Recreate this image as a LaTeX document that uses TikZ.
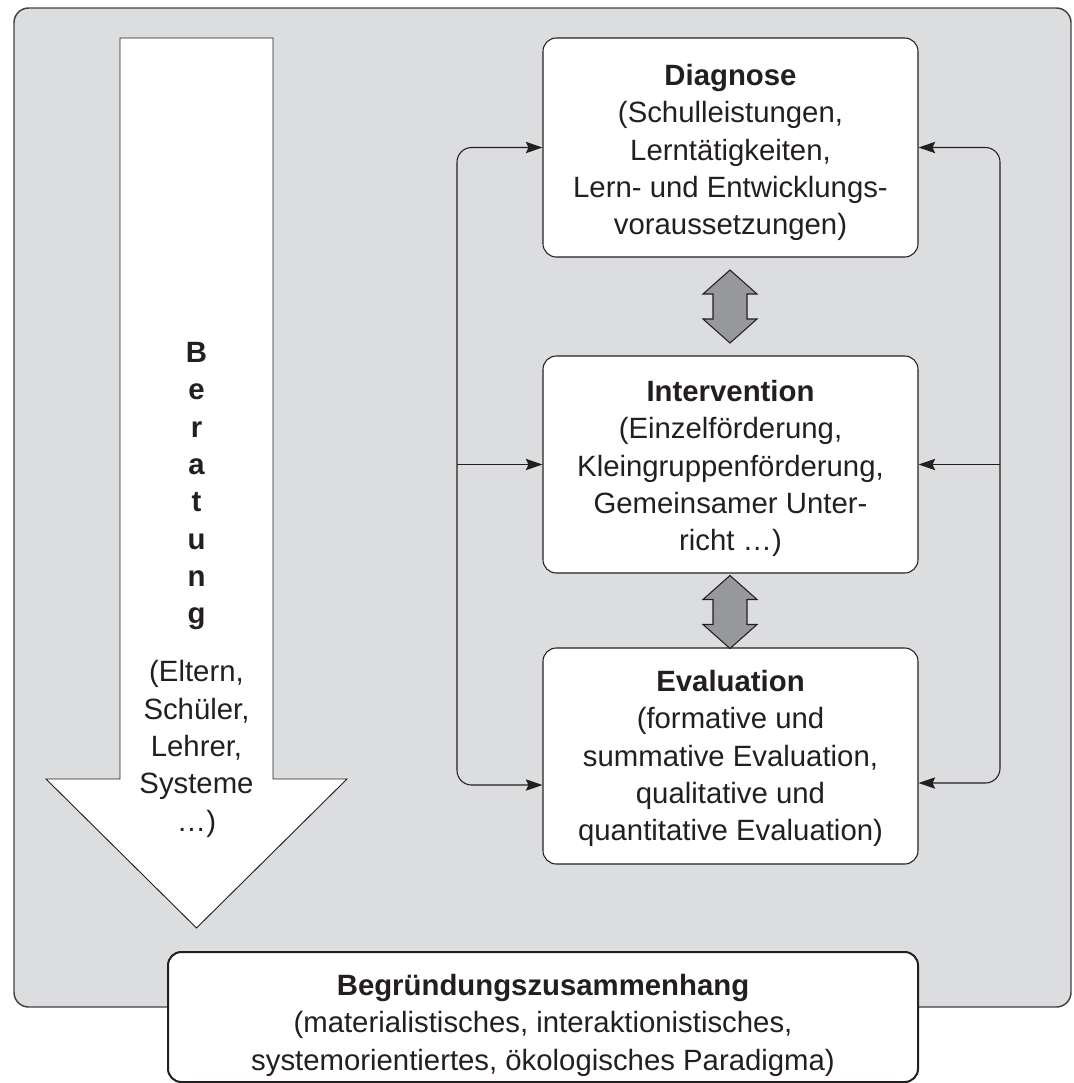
\documentclass[tikz,border=0pt]{standalone}
\usepackage{fontspec}
\setmainfont{Liberation Sans}
\usetikzlibrary{arrows.meta,calc}
\definecolor{framefill}{HTML}{DCDDDF}
\definecolor{ink}{HTML}{231F20}
\definecolor{dblfill}{HTML}{97989B}
\begin{document}
\begin{tikzpicture}[x=0.75pt,y=-0.75pt,
  box/.style={draw=ink, line width=0.8pt, fill=white, rounded corners=10pt, inner sep=0pt},
  txt/.style={align=center, inner sep=0pt, font=\fontsize{22}{28}\selectfont, text=ink, anchor=north},
  conn/.style={draw=ink, line width=0.8pt, rounded corners=11pt, -{Stealth[length=12.5pt,width=8.5pt,inset=2pt]}},
  dblarrow/.style={draw=ink, line width=0.8pt, fill=dblfill, line join=miter},
  bigarrow/.style={draw=ink, line width=0.7pt, fill=white, line join=miter}]
\useasboundingbox (0,0) rectangle (1074,1083);
% grey frame
\draw[draw=ink!85, line width=1.1pt, fill=framefill, rounded corners=11pt] (14,8) rectangle (1071,1007);
% big arrow
\draw[bigarrow] (120,38) -- (273,38) -- (273,779) -- (347,779) -- (196.5,928) -- (46,779) -- (120,779) -- cycle;
% boxes
\node[box, minimum width=281.25pt, minimum height=164.25pt] (diag) at (730.5,147.5) {};
\node[box, minimum width=281.25pt, minimum height=162.75pt] (interv) at (730.5,464.5) {};
\node[box, minimum width=281.25pt, minimum height=162pt] (eval) at (730.5,756) {};
% double arrows
\draw[dblarrow, shift={(730,306.5)}] (0,-36.5) -- (27,-12.5) -- (17,-12.5) -- (17,12.5) -- (27,12.5) -- (0,36.5) -- (-27,12.5) -- (-17,12.5) -- (-17,-12.5) -- (-27,-12.5) -- cycle;
\draw[dblarrow, shift={(730,612)}] (0,-36.5) -- (27,-12.5) -- (17,-12.5) -- (17,12.5) -- (27,12.5) -- (0,36.5) -- (-27,12.5) -- (-17,12.5) -- (-17,-12.5) -- (-27,-12.5) -- cycle;
% connectors
\coordinate (L) at (457,464.5);
\coordinate (Lb) at (457,785);
\coordinate (evalL) at (eval.west |- Lb);
\coordinate (R) at (1000,464.5);
\coordinate (Rb) at (1000,783);
\coordinate (evalR) at (eval.east |- Rb);
\draw[conn] (L) |- (diag.west);
\draw[conn] (L) -- (interv.west);
\draw[conn] (L) |- (evalL);
\draw[conn] (R) |- (diag.east);
\draw[conn] (R) -- (interv.east);
\draw[conn] (R) |- (evalR);
% bottom box
\node[box, line width=1.5pt, minimum width=562.5pt, minimum height=97.5pt] (begr) at (543,1017) {};
% texts
\node[txt] (diagT) at (730.5,64) {\textbf{Diagnose}\\(Schulleistungen,\\Lerntätigkeiten,\\Lern- und Entwicklungs-\\voraussetzungen)};
\node[txt] (intT) at (730.5,380) {\textbf{Intervention}\\(Einzelförderung,\\Kleingruppenförderung,\\Gemeinsamer Unter-\\richt …)};
\node[txt] (evalT) at (730.5,670) {\textbf{Evaluation}\\(formative und\\summative Evaluation,\\qualitative und\\quantitative Evaluation)};
\node[txt] (berT) at (196.5,342) {\textbf{B}\\\textbf{e}\\\textbf{r}\\\textbf{a}\\\textbf{t}\\\textbf{u}\\\textbf{n}\\\textbf{g}\\[15.5pt](Eltern,\\Schüler,\\Lehrer,\\Systeme\\…)};
\node[txt] (begrT) at (543,974) {\textbf{Begründungszusammenhang}\\(materialistisches, interaktionistisches,\\systemorientiertes, ökologisches Paradigma)};
\end{tikzpicture}
\end{document}
